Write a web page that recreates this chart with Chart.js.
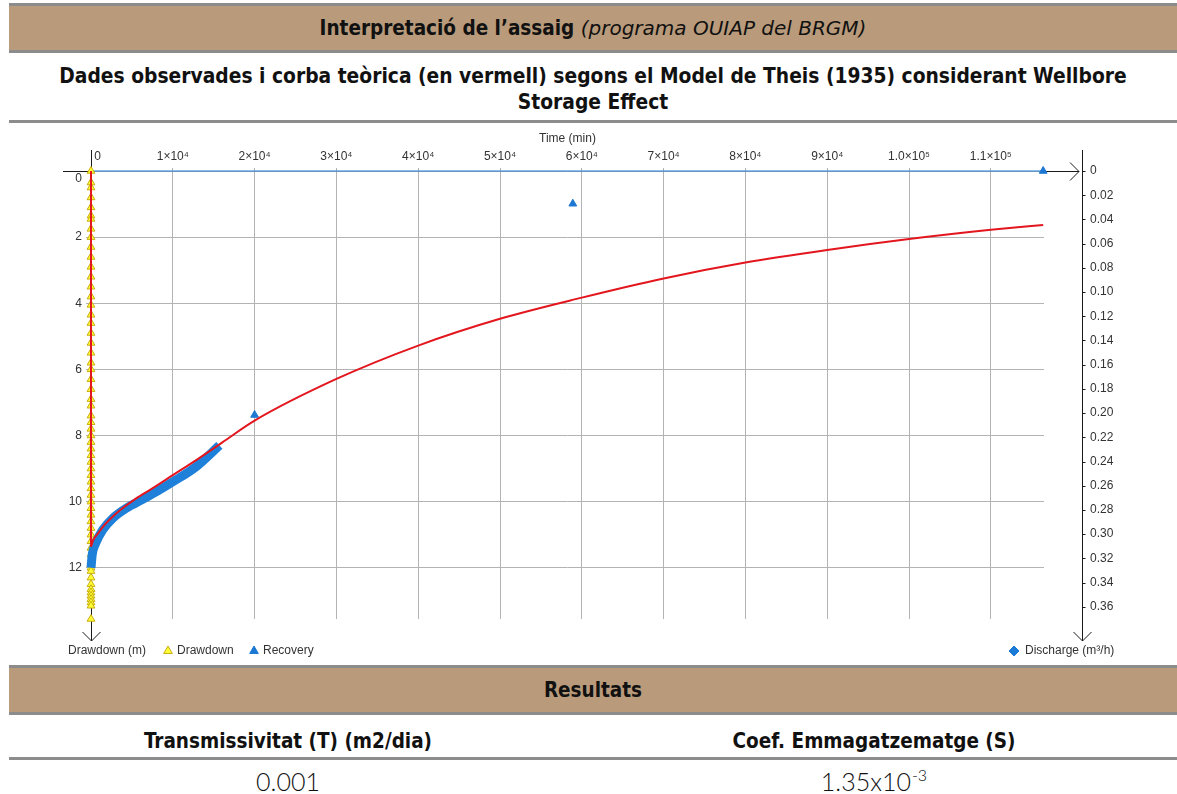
<!DOCTYPE html>
<html>
<head>
<meta charset="utf-8">
<title>Interpretació de l'assaig</title>
<script src="https://cdn.jsdelivr.net/npm/chart.js@4.4.1/dist/chart.umd.min.js"></script>
<style>
  body { margin: 0; background: #fff; }
  #page {
    position: relative; width: 1177px; height: 794px; overflow: hidden;
    font-family: "DejaVu Sans Condensed", "DejaVu Sans", sans-serif;
    font-stretch: condensed; color: #111;
  }
  .band {
    position: absolute; left: 9px; width: 1168px; height: 44px; line-height: 44px;
    background: #b99b7b; border-top: 3px solid #8c8c8c; border-bottom: 3px solid #8c8c8c;
    text-align: center; font-weight: bold; font-size: 20.5px;
  }
  .band i { font-weight: normal; font-family: "DejaVu Sans", sans-serif; font-stretch: normal; font-size: 20px; }
  .rule { position: absolute; left: 9px; width: 1168px; height: 3px; background: #8c8c8c; }
  #title {
    position: absolute; left: 9px; top: 63px; width: 1168px; text-align: center;
    font-weight: bold; font-size: 20.8px; line-height: 26px;
  }
  .cell { position: absolute; width: 500px; text-align: center; }
  .cell.head { top: 728px; line-height: 26px; font-weight: bold; font-size: 20.5px; }
  .cell.val { top: 768px; line-height: 26px; font-family: Lato, "DejaVu Sans", sans-serif; font-size: 25px; font-weight: 300; }
  .cell sup { font-size: 16px; vertical-align: 0; position: relative; top: -0.65em; line-height: 0; margin-left: 1px; }
  #chartBox { position: absolute; left: 0; top: 125px; width: 1177px; height: 540px; }
</style>
</head>
<body>
<div id="page">
  <div class="band" style="top:3px">Interpretació de l’assaig <i>(programa OUIAP del BRGM)</i></div>
  <div id="title">Dades observades i corba teòrica (en vermell) segons el Model de Theis (1935) considerant Wellbore<br>Storage Effect</div>
  <div class="rule" style="top:120px"></div>

  <div id="chartBox"><canvas id="pumpChart" width="1177" height="540"></canvas></div>

  <div class="band" style="top:665px">Resultats</div>
  <div class="cell head" style="left:38px">Transmissivitat (T) (m2/dia)</div>
  <div class="cell head" style="left:624px">Coef. Emmagatzematge (S)</div>
  <div class="rule" style="top:757px"></div>
  <div class="cell val" style="left:38px">0.001</div>
  <div class="cell val" style="left:624px">1.35x10<sup>-3</sup></div>
</div>

<script>
// Axis ticks
const timeTicks = [0, 10000, 20000, 30000, 40000, 50000, 60000, 70000, 80000, 90000, 100000, 110000];
const timeTickLabels = ['    0', '1×10⁴', '2×10⁴', '3×10⁴', '4×10⁴', '5×10⁴', '6×10⁴', '7×10⁴', '8×10⁴', '9×10⁴', '1.0×10⁵', '1.1×10⁵'];
const drawdownTicks = [0, 2, 4, 6, 8, 10, 12];
const dischargeTicks = [0, 0.02, 0.04, 0.06, 0.08, 0.10, 0.12, 0.14, 0.16, 0.18, 0.20, 0.22, 0.24, 0.26, 0.28, 0.30, 0.32, 0.34, 0.36];

// Pumping phase drawdown (m), all readings fall at t ~ 0 min on this scale
const pumpingTime = 0;
const drawdownObs = [0, 0.35, 0.5, 0.8, 1.1, 1.35, 1.45, 1.75, 2.0, 2.3, 2.6, 2.9, 3.2, 3.5, 3.8, 4.05,
  4.35, 4.6, 4.9, 5.2, 5.5, 5.8, 6.0, 6.3, 6.6, 6.9, 7.1, 7.4, 7.6, 7.8, 8.0, 8.2, 8.4, 8.6, 8.8,
  9.0, 9.2, 9.4, 9.6, 9.8, 10.0, 10.2, 10.4, 10.6, 10.8, 11.0, 11.2, 11.4, 11.6, 11.8, 12.0,
  12.1, 12.3, 12.5, 12.65, 12.75, 12.85, 12.95, 13.05, 13.15, 13.55];

// Recovery readings: dense early record, then three late readings
const recoveryTime = [0, 150, 550, 1440, 2670, 4300, 6330, 8000, 10000, 12860, 15700];
const recoveryObs = [12.0, 11.6, 11.27, 10.85, 10.5, 10.2, 9.93, 9.7, 9.4, 8.94, 8.3];
const lateRecoveryTime = [20000, 58900, 116400];
const lateRecoveryObs = [7.38, 0.99, 0];

// Theis + wellbore storage theoretical curve
const theisPumpTime = [0, 0];
const theisPumpDrawdown = [0, 11.36];
const theisRecTime = [0, 300, 830, 1500, 2260, 3500, 5530, 7500, 10000, 13000, 16100, 20000, 30000,
  40000, 50000, 60000, 70000, 80000, 90000, 100000, 110000, 116400];
const theisRecDrawdown = [11.36, 11.15, 10.97, 10.75, 10.55, 10.27, 9.9, 9.6, 9.2, 8.72, 8.2, 7.55, 6.29,
  5.28, 4.47, 3.83, 3.25, 2.77, 2.39, 2.06, 1.78, 1.63];

// Discharge (m3/h)
const dischargeTime = [0, 116400];
const dischargeRate = [0, 0];

const pts = (xs, ys) => xs.map((x, i) => ({ x: x, y: ys[i] }));
const fixedTicks = values => scale => { scale.ticks = values.map(v => ({ value: v })); };
// fixed axis box size, no extra margin for overhanging labels
const fixedBox = (w, h) => s => {
  if (w) s.width = w;
  if (h) s.height = h;
  s.paddingLeft = s.paddingRight = s.paddingTop = s.paddingBottom = 0;
};

const RED = '#e3161e';
const BLUE = '#1c78d2';
const TICK_FONT = { family: '"Liberation Sans", Arial, sans-serif', size: 12 };

// Axis lines, arrows and the bottom legend
const axisFrame = {
  id: 'axisFrame',
  beforeDatasetsDraw(chart) {
    const { ctx, chartArea: a, scales } = chart;
    const y0 = Math.round(scales.y.getPixelForValue(0)) + 0.5;
    const xl = Math.round(scales.x.getPixelForValue(0)) + 0.5;
    const xr = a.right + 38.5;
    const top = a.top - 21;
    const bottom = a.bottom + 22;
    ctx.save();
    ctx.strokeStyle = '#1a1a1a';
    ctx.lineWidth = 1;
    ctx.beginPath();
    // drawdown axis
    ctx.moveTo(xl, top); ctx.lineTo(xl, bottom);
    ctx.moveTo(xl - 9, bottom - 9); ctx.lineTo(xl, bottom); ctx.lineTo(xl + 9, bottom - 9);
    // time axis
    ctx.moveTo(a.left - 28, y0); ctx.lineTo(a.left, y0);
    ctx.moveTo(a.right, y0); ctx.lineTo(a.right + 35, y0);
    ctx.moveTo(a.right + 26, y0 - 9); ctx.lineTo(a.right + 35, y0); ctx.lineTo(a.right + 26, y0 + 9);
    // discharge axis
    ctx.moveTo(xr, top); ctx.lineTo(xr, bottom);
    ctx.moveTo(xr - 9, bottom - 9); ctx.lineTo(xr, bottom); ctx.lineTo(xr + 9, bottom - 9);
    scales.y2.ticks.forEach(t => {
      const py = Math.round(scales.y2.getPixelForValue(t.value)) + 0.5;
      ctx.moveTo(xr, py); ctx.lineTo(xr + 3, py);
    });
    ctx.stroke();
    ctx.restore();
  },
  afterDraw(chart) {
    const { ctx, chartArea: a, data } = chart;
    const ly = a.bottom + 32;
    const byLabel = l => data.datasets.find(d => d.label === l);
    ctx.save();
    ctx.font = '12px "Liberation Sans", Arial, sans-serif';
    ctx.fillStyle = '#333';
    ctx.textBaseline = 'middle';
    ctx.fillText('Drawdown (m)', 68, ly);
    ctx.fillText('Drawdown', 177, ly);
    ctx.fillText('Recovery', 263, ly);
    ctx.fillText('Discharge (m³/h)', 1025, ly);

    const marker = (ds, style, x, r) => {
      ctx.fillStyle = ds.backgroundColor;
      ctx.strokeStyle = ds.borderColor;
      Chart.helpers.drawPoint(ctx, { pointStyle: style, radius: r, borderWidth: 1, rotation: 0 }, x, ly);
    };
    marker(byLabel('Drawdown'), 'triangle', 168, 5);
    marker(byLabel('Recovery'), 'triangle', 254, 5);
    const dis = byLabel('Discharge (m³/h)');
    marker({ backgroundColor: dis.borderColor, borderColor: dis.borderColor }, 'rectRot', 1014, 5);
    ctx.restore();
  }
};

new Chart(document.getElementById('pumpChart'), {
  type: 'scatter',
  data: {
    datasets: [
      {
        label: 'Theis recovery',
        data: pts(theisRecTime, theisRecDrawdown),
        yAxisID: 'y', showLine: true, cubicInterpolationMode: 'monotone',
        borderColor: RED, borderWidth: 2, pointRadius: 0, clip: false, order: 0
      },
      {
        label: 'Theis pumping',
        data: pts(theisPumpTime, theisPumpDrawdown),
        yAxisID: 'y', showLine: true,
        borderColor: RED, borderWidth: 2, pointRadius: 0, clip: false, order: 0
      },
      {
        label: 'Recovery',
        data: pts(lateRecoveryTime, lateRecoveryObs),
        yAxisID: 'y', pointStyle: 'triangle', pointRadius: 4.5,
        backgroundColor: BLUE, borderColor: BLUE, borderWidth: 1, clip: false, order: 1
      },
      {
        label: 'Recovery (early)',
        data: pts(recoveryTime, recoveryObs),
        yAxisID: 'y', showLine: true, cubicInterpolationMode: 'monotone',
        borderColor: '#1f80da', borderWidth: 9, pointRadius: 0, clip: false, order: 2
      },
      {
        label: 'Drawdown',
        data: drawdownObs.map(s => ({ x: pumpingTime, y: s })),
        yAxisID: 'y', pointStyle: 'triangle', pointRadius: 4.5,
        backgroundColor: '#ffff33', borderColor: '#c9ad14', borderWidth: 1, clip: false, order: 3
      },
      {
        label: 'Discharge (m³/h)',
        data: pts(dischargeTime, dischargeRate),
        yAxisID: 'y2', showLine: true,
        borderColor: '#1a7ad6', borderWidth: 1.2, pointRadius: 0, clip: false, order: 4
      }
    ]
  },
  options: {
    responsive: false,
    animation: false,
    devicePixelRatio: 1,
    layout: { padding: { top: 0, left: 0, right: 0, bottom: 46 } },
    plugins: { legend: { display: false }, tooltip: { enabled: false } },
    scales: {
      x: {
        type: 'linear', position: 'top', min: 0, max: 116500,
        afterBuildTicks: fixedTicks(timeTicks),
        afterFit: fixedBox(0, 46),
        title: { display: true, text: 'Time (min)', color: '#333', font: TICK_FONT, padding: { top: 6, bottom: 0 } },
        ticks: {
          autoSkip: false, maxRotation: 0, padding: 4, color: '#333', font: TICK_FONT,
          callback: v => timeTickLabels[timeTicks.indexOf(v)]
        },
        grid: { color: '#b3b3b3', tickLength: 3 },
        border: { display: false }
      },
      y: {
        type: 'linear', position: 'left', reverse: true, min: 0, max: 13.55,
        afterBuildTicks: fixedTicks(drawdownTicks),
        afterFit: fixedBox(91, 0),
        ticks: {
          padding: 4, color: '#333', font: TICK_FONT,
          callback: v => (v === 0 ? ['', '0'] : String(v))
        },
        grid: { color: '#b3b3b3', tickLength: 5 },
        border: { display: false }
      },
      y2: {
        type: 'linear', position: 'right', reverse: true, min: 0, max: 0.3701,
        afterBuildTicks: fixedTicks(dischargeTicks),
        afterFit: fixedBox(133, 0),
        ticks: { padding: 46, color: '#333', font: TICK_FONT, callback: v => v.toFixed(v === 0 ? 0 : 2) },
        grid: { display: false, drawTicks: false },
        border: { display: false }
      }
    }
  },
  plugins: [axisFrame]
});
</script>
</body>
</html>
